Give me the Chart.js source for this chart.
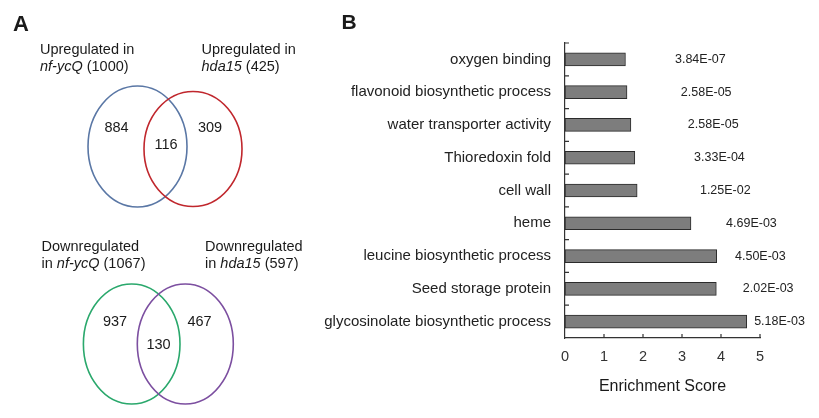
<!DOCTYPE html>
<html>
<head>
<meta charset="utf-8">
<script src="https://cdn.jsdelivr.net/npm/chart.js@4.4.1/dist/chart.umd.min.js"></script>
<style>
  body { margin: 0; background: #fff; }
  .box { position: absolute; top: 0; height: 418px; }
</style>
</head>
<body>
<div class="box" style="left:0;width:340px"><canvas id="venn"></canvas></div>
<div class="box" style="left:300px;width:519px"><canvas id="bars"></canvas></div>
<script>
// panel B data
const terms = ['oxygen binding', 'flavonoid biosynthetic process', 'water transporter activity',
  'Thioredoxin fold', 'cell wall', 'heme', 'leucine biosynthetic process',
  'Seed storage protein', 'glycosinolate biosynthetic process'];
const enrichment = [1.55, 1.59, 1.69, 1.79, 1.85, 3.23, 3.89, 3.88, 4.66];
const pValues = ['3.84E-07', '2.58E-05', '2.58E-05', '3.33E-04', '1.25E-02',
  '4.69E-03', '4.50E-03', '2.02E-03', '5.18E-03'];
const xTicks = [0, 1, 2, 3, 4, 5];

// panel A data
const geneSets = ['nf-ycQ', 'hda15'];
const upTotals = [1000, 425];
const upCounts = [884, 116, 309];     // only first, shared, only second
const downTotals = [1067, 597];
const downCounts = [937, 130, 467];

Chart.defaults.font.family = '"Liberation Sans", Arial, sans-serif';
Chart.defaults.color = '#1a1a1a';

// where the p-value text starts, in axis units (layout only)
const pvalAt = [2.82, 2.97, 3.15, 3.31, 3.46, 4.13, 4.36, 4.56, 4.85];

const textColor = '#1a1a1a';

// draws a line made of plain and italic pieces
function richText(ctx, parts, x, y, size) {
  ctx.textAlign = 'left';
  ctx.textBaseline = 'middle';
  for (let p of parts) {
    ctx.font = (p.it ? 'italic ' : '') + size + 'px "Liberation Sans", Arial, sans-serif';
    ctx.fillText(p.t, x, y);
    x += ctx.measureText(p.t).width;
  }
}

const vennPlugin = {
  id: 'venn',
  afterDraw(chart) {
    const ctx = chart.ctx;
    const sx = chart.scales.x, sy = chart.scales.y;
    const px = v => sx.getPixelForValue(v);
    const py = v => sy.getPixelForValue(v);

    ctx.save();
    ctx.fillStyle = textColor;
    ctx.font = 'bold 22px "Liberation Sans", Arial, sans-serif';
    ctx.textAlign = 'left';
    ctx.textBaseline = 'alphabetic';
    ctx.fillText('A', px(13), py(30.5));

    let venns = [
      {totals: upTotals, counts: upCounts, colors: ['#5a77a5', '#c0272d'],
       ell: [[137.5, 146.5, 49.5, 60.5], [193, 149, 49, 57.5]],
       head: ['Upregulated in', ''], lblX: [40, 201.5], lblY: [50, 67],
       numPos: [[116.5, 128], [166, 145], [210, 128]]},
      {totals: downTotals, counts: downCounts, colors: ['#2aa86c', '#7c4fa0'],
       ell: [[131.7, 344, 48.3, 60], [185.3, 344, 48, 60]],
       head: ['Downregulated', 'in '], lblX: [41.5, 205], lblY: [246.5, 264.3],
       numPos: [[115, 321.7], [158.5, 345], [199.5, 321.7]]}
    ];

    for (let v of venns) {
      // ellipses
      ctx.lineWidth = 1.6;
      for (let k = 0; k < 2; k++) {
        let e = v.ell[k];
        ctx.strokeStyle = v.colors[k];
        ctx.beginPath();
        ctx.ellipse(px(e[0]), py(e[1]), px(e[2]) - px(0), py(e[3]) - py(0), 0, 0, Math.PI * 2);
        ctx.stroke();
      }
      // set labels
      ctx.fillStyle = textColor;
      for (let k = 0; k < 2; k++) {
        let x = px(v.lblX[k]);
        richText(ctx, [{t: v.head[0]}], x, py(v.lblY[0]), 14.5);
        richText(ctx, [{t: v.head[1]}, {t: geneSets[k], it: true}, {t: ' (' + v.totals[k] + ')'}],
          x, py(v.lblY[1]), 14.5);
      }
      // counts
      ctx.font = '14.5px "Liberation Sans", Arial, sans-serif';
      ctx.textAlign = 'center';
      ctx.textBaseline = 'middle';
      for (let k = 0; k < 3; k++) {
        ctx.fillText(String(v.counts[k]), px(v.numPos[k][0]), py(v.numPos[k][1]));
      }
    }
    ctx.restore();
  }
};

new Chart('venn', {
  type: 'scatter',
  data: {datasets: []},
  options: {
    responsive: true, maintainAspectRatio: false, animation: false,
    layout: {padding: 0},
    plugins: {legend: {display: false}, tooltip: {enabled: false}},
    scales: {
      x: {type: 'linear', min: 0, max: 340, display: false},
      y: {type: 'linear', min: 0, max: 418, reverse: true, display: false}
    }
  },
  plugins: [vennPlugin]
});

// inward tick marks, p-value text and the panel letter
const barExtras = {
  id: 'barExtras',
  afterDraw(chart) {
    const ctx = chart.ctx;
    const a = chart.chartArea;
    const sx = chart.scales.x, sy = chart.scales.y;
    ctx.save();
    ctx.strokeStyle = '#333';
    ctx.lineWidth = 1.2;
    ctx.beginPath();
    let step = sy.getPixelForValue(1) - sy.getPixelForValue(0);
    for (let i = 0; i < terms.length; i++) {
      let y = sy.getPixelForValue(i) - step / 2;
      ctx.moveTo(a.left, y);
      ctx.lineTo(a.left + 4, y);
    }
    for (let t of xTicks) {
      if (t === 0) continue;
      let x = sx.getPixelForValue(t);
      ctx.moveTo(x, a.bottom);
      ctx.lineTo(x, a.bottom - 4);
    }
    ctx.stroke();

    ctx.fillStyle = '#222';
    ctx.font = '12.5px "Liberation Sans", Arial, sans-serif';
    ctx.textAlign = 'left';
    ctx.textBaseline = 'middle';
    pValues.forEach((p, i) => {
      ctx.fillText(p, sx.getPixelForValue(pvalAt[i]), sy.getPixelForValue(i));
    });

    ctx.fillStyle = textColor;
    ctx.font = 'bold 21px "Liberation Sans", Arial, sans-serif';
    ctx.textBaseline = 'alphabetic';
    ctx.fillText('B', 41.5, 28.5);
    ctx.restore();
  }
};

new Chart('bars', {
  type: 'bar',
  data: {
    labels: terms,
    datasets: [{
      data: enrichment,
      backgroundColor: '#7d7d7d',
      borderColor: '#2b2b2b',
      borderWidth: 1,
      borderSkipped: false,
      barThickness: 13
    }]
  },
  options: {
    indexAxis: 'y',
    responsive: true, maintainAspectRatio: false, animation: false,
    layout: {padding: {top: 43, right: 59, bottom: 0, left: 0}},
    plugins: {legend: {display: false}, tooltip: {enabled: false}},
    scales: {
      x: {
        min: 0, max: 5,
        afterBuildTicks(s) { s.ticks = xTicks.map(v => ({value: v})); },
        ticks: {font: {size: 14.5}, color: '#333', padding: 10},
        grid: {display: false, drawTicks: false},
        border: {color: '#333', width: 1.2},
        title: {display: true, text: 'Enrichment Score', font: {size: 16}, color: textColor,
          padding: {top: 4, bottom: 22}},
        afterFit(s) { s.height = 80; }
      },
      y: {
        ticks: {font: {size: 15}, color: '#222', padding: 14},
        grid: {display: false, drawTicks: false},
        border: {color: '#333', width: 1.2},
        afterFit(s) { s.width = 265; }
      }
    }
  },
  plugins: [barExtras]
});
</script>
</body>
</html>
